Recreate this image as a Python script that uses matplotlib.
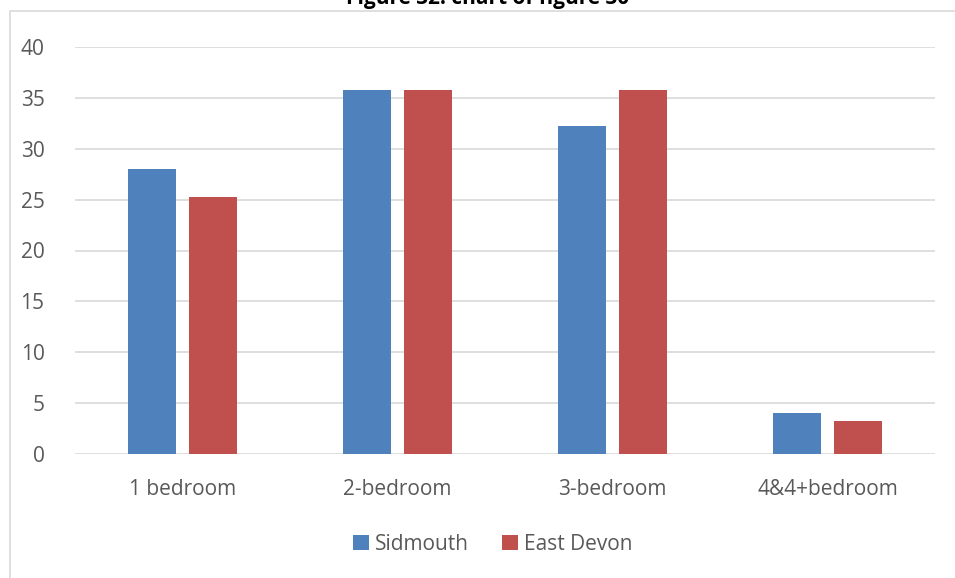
import numpy as np
import matplotlib.pyplot as plt
from matplotlib.patches import Rectangle

categories = ["1 bedroom", "2-bedroom", "3-bedroom", "4&4+bedroom"]
sidmouth = [28.0, 35.8, 32.2, 4.0]
east_devon = [25.3, 35.8, 35.8, 3.2]
series_names = ["Sidmouth", "East Devon"]
colors = ["#4F81BD", "#C0504D"]

W, H = 955, 578
fig = plt.figure(figsize=(W / 100, H / 100), dpi=100)
plt.rcParams["font.family"] = ["Open Sans", "DejaVu Sans"]

# chart frame
fig.patches.append(Rectangle((10 / W, -0.05), 1.1, 1 - 11 / H + 0.05,
                             transform=fig.transFigure, fill=False,
                             edgecolor="#D9D9D9", linewidth=1.2))

# title partially cut at top
fig.text(488 / W, 1 - 4 / H, "Figure 32: chart of figure 30", ha="center",
         va="baseline", fontsize=15, fontweight="bold", color="black")

ax = fig.add_axes([75 / W, 1 - 454 / H, (935 - 75) / W, (454 - 47) / H])
x = np.arange(len(categories))
off = 0.142
bw = 0.223
ax.bar(x - off, sidmouth, bw, color=colors[0], label=series_names[0], zorder=3)
ax.bar(x + off, east_devon, bw, color=colors[1], label=series_names[1], zorder=3)

ax.set_xlim(-0.5, len(categories) - 0.5)
ax.set_ylim(0, 40)
ax.set_yticks(range(0, 41, 5))
ax.set_xticks(x)
ax.set_xticklabels(categories)
ax.grid(axis="y", color="#D9D9D9", linewidth=1.2, zorder=0)
for s in ax.spines.values():
    s.set_visible(False)
ax.tick_params(length=0, labelsize=15, colors="#595959")
ax.tick_params(axis="x", pad=18)
ax.tick_params(axis="y", pad=22)

ax.legend(loc="center", bbox_to_anchor=(493 / W, 1 - 544 / H),
          bbox_transform=fig.transFigure, ncol=2, frameon=False,
          fontsize=15, labelcolor="#595959", handlelength=0.75,
          handleheight=0.75, handletextpad=0.3, columnspacing=1.6)

fig.savefig("out.png", dpi=100)
